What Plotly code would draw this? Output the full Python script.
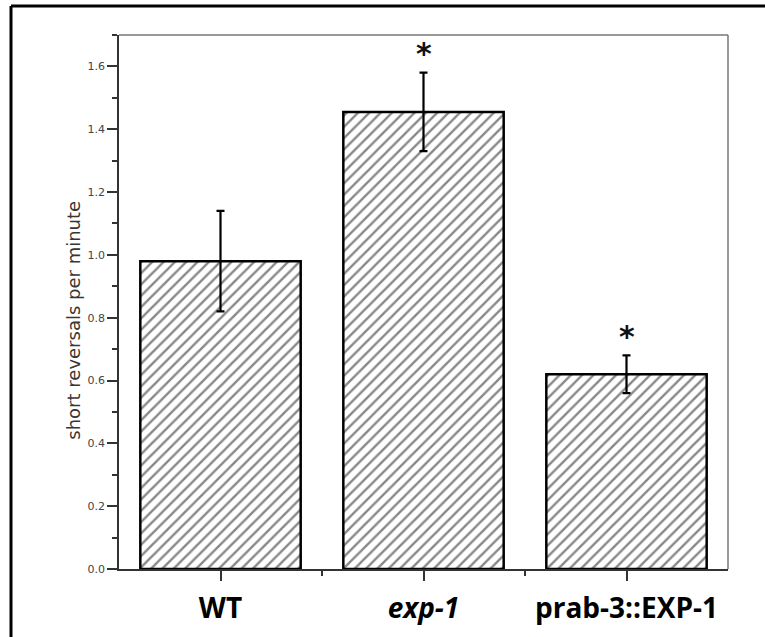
import plotly.graph_objects as go

categories = ["WT", "exp-1", "prab-3::EXP-1"]
tick_text = ["<b>WT</b>", "<b><i>exp-1</i></b>", "<b>prab-3::EXP-1</b>"]
means = [0.98, 1.455, 0.62]
errors = [0.16, 0.125, 0.06]
significance = ["", "*", "*"]
y_title = "short reversals per minute"

x_pos = list(range(len(categories)))

fig = go.Figure()
fig.add_trace(go.Bar(
    x=x_pos, y=means,
    width=0.79,
    marker=dict(
        color="white",
        line=dict(color="black", width=2.5),
        pattern=dict(shape="/", fgcolor="#111111", bgcolor="white", size=8, solidity=0.3),
    ),
    error_y=dict(type="data", array=errors, visible=True, color="black", thickness=2.2, width=4),
    hoverinfo="skip",
))

annotations = []
for xi, m, e, s in zip(x_pos, means, errors, significance):
    if s:
        annotations.append(dict(x=xi, y=m + e + 0.06, xref="x", yref="y", text="<b>" + s + "</b>",
                                showarrow=False, font=dict(family="DejaVu Sans", size=30, color="#111"),
                                yanchor="middle"))

annotations.append(dict(x=-0.0952, y=0.466, xref="paper", yref="paper", text=y_title,
                        textangle=-90, showarrow=False,
                        font=dict(family="DejaVu Sans", size=18, color="#3a3530")))

W, H = 765, 637
L, R, T, B = 119, 37, 35, 68
pw, ph = W - L - R, H - T - B
def px(xp):
    return (xp - L) / pw
def py(yp):
    return (H - B - yp) / ph

shapes = [
    # outer frame (top and left)
    dict(type="line", xref="paper", yref="paper", x0=px(11), x1=px(770), y0=py(6), y1=py(6),
         line=dict(color="black", width=3)),
    dict(type="line", xref="paper", yref="paper", x0=px(11), x1=px(11), y0=py(6), y1=py(645),
         line=dict(color="black", width=3)),
    # top/right plot frame
    dict(type="line", xref="paper", yref="paper", x0=0, x1=1, y0=1, y1=1,
         line=dict(color="#777", width=1.5)),
    dict(type="line", xref="paper", yref="paper", x0=1, x1=1, y0=0, y1=1,
         line=dict(color="#777", width=1.5)),
]

fig.update_layout(
    width=W, height=H,
    margin=dict(l=L, r=R, t=T, b=B),
    paper_bgcolor="white", plot_bgcolor="white",
    showlegend=False,
    annotations=annotations,
    shapes=shapes,
)
fig.update_xaxes(
    range=[-0.5, 2.5],
    tickvals=x_pos, ticktext=tick_text,
    ticks="outside", ticklen=10, tickwidth=1.5, tickcolor="#333",
    tickfont=dict(family="Open Sans", size=28, color="black"),
    ticklabelstandoff=4,
    showline=True, linecolor="#333", linewidth=1.5,
    showgrid=False, zeroline=False,
    minor=dict(tickvals=[0.5, 1.5], ticks="outside", ticklen=5, tickwidth=1.5, tickcolor="#333"),
)
fig.update_yaxes(
    range=[0, 1.7],
    tickvals=[0, 0.2, 0.4, 0.6, 0.8, 1.0, 1.2, 1.4, 1.6],
    tickformat=".1f",
    ticks="outside", ticklen=10, tickwidth=1.5, tickcolor="#333",
    tickfont=dict(family="DejaVu Sans", size=11, color="#444"),
    showline=True, linecolor="#333", linewidth=1.5,
    showgrid=False, zeroline=False,
    minor=dict(dtick=0.1, ticks="outside", ticklen=5, tickwidth=1.5, tickcolor="#333"),
)

fig.write_html("out.html", config={"displayModeBar": False},
               post_script="document.body.style.margin='0px';document.body.style.overflow='hidden';")
